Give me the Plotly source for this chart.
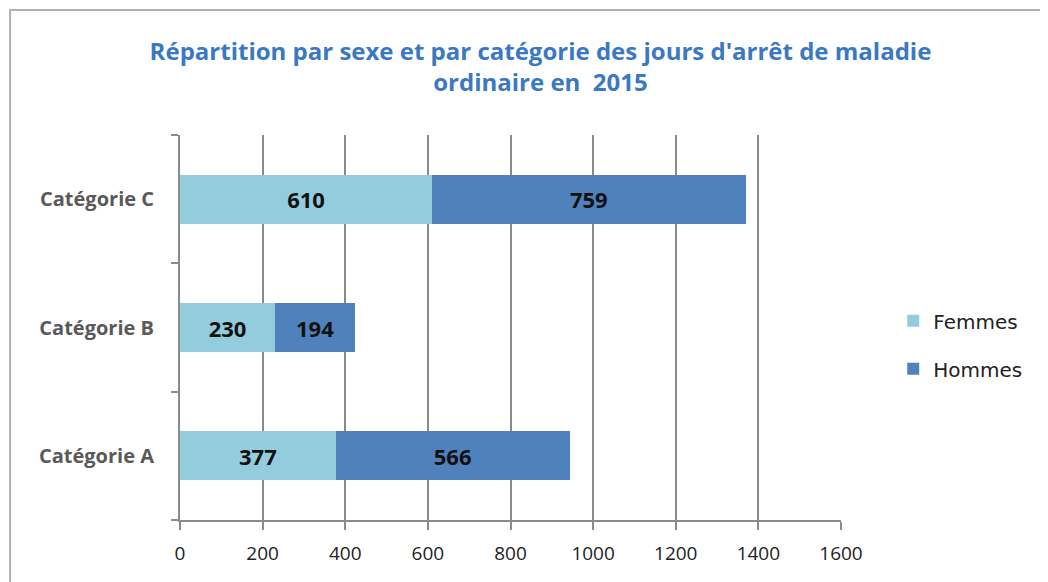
import plotly.graph_objects as go

categories = ["Catégorie A", "Catégorie B", "Catégorie C"]
femmes = [377, 230, 610]
hommes = [566, 194, 759]
x_ticks = [0, 200, 400, 600, 800, 1000, 1200, 1400, 1600]

title_text = "Répartition par sexe et par catégorie des jours d'arrêt de maladie<br>ordinaire en  2015"

label_font = dict(family="Open Sans", size=22, color="#111111", weight="bold")

fig = go.Figure()
fig.add_trace(go.Bar(
    y=categories, x=femmes, name="Femmes", orientation="h",
    marker=dict(color="#93CDDD", line=dict(width=0)),
    text=femmes, textposition="inside", insidetextanchor="middle",
    textfont=label_font, legendgroup="f",
))
fig.add_trace(go.Bar(
    y=categories, x=hommes, name="Hommes", orientation="h",
    marker=dict(color="#4F81BD", line=dict(width=0)),
    text=hommes, textposition="inside", insidetextanchor="middle",
    textfont=label_font, legendgroup="h",
))

fig.update_layout(
    width=1040, height=574,
    barmode="stack", bargap=0.62,
    paper_bgcolor="white", plot_bgcolor="white",
    margin=dict(l=172, r=207, t=127, b=62),
    title=dict(text=title_text, x=0.512, xanchor="center", yref="container",
               y=0.91, yanchor="middle",
               font=dict(family="Open Sans", size=24, color="#3A78C2", weight="bold")),
    legend=dict(x=1.079, xanchor="left", y=0.455, yanchor="middle",
                font=dict(family="DejaVu Sans", size=20, color="#222222"),
                tracegroupgap=19, traceorder="grouped", itemwidth=30),
    showlegend=True,
    uniformtext=dict(minsize=14, mode="show"),
    xaxis=dict(range=[0, 1600], tickvals=x_ticks, ticktext=[str(v) for v in x_ticks],
               showgrid=True, gridcolor="#8a8a8a", gridwidth=2,
               showline=True, linecolor="#8a8a8a", linewidth=2,
               ticks="outside", ticklen=8, tickcolor="#8a8a8a", tickwidth=2,
               ticklabelstandoff=7, zeroline=False,
               tickfont=dict(family="Open Sans", size=19, color="#222222")),
    yaxis=dict(showline=True, linecolor="#8a8a8a", linewidth=2,
               ticks="outside", ticklen=7, tickcolor="#8a8a8a", tickwidth=2,
               tickson="boundaries", ticklabelstandoff=20,
               tickfont=dict(family="Open Sans", size=20, color="#595959", weight="bold"),
               showgrid=False),
)

# outer chart border
fig.add_shape(type="rect", xref="paper", yref="paper",
              x0=-0.257, x1=1.33, y0=-0.2, y1=1.325,
              line=dict(color="#b0b0b0", width=2), fillcolor="rgba(0,0,0,0)", layer="below")

fig.write_html("out.html")
